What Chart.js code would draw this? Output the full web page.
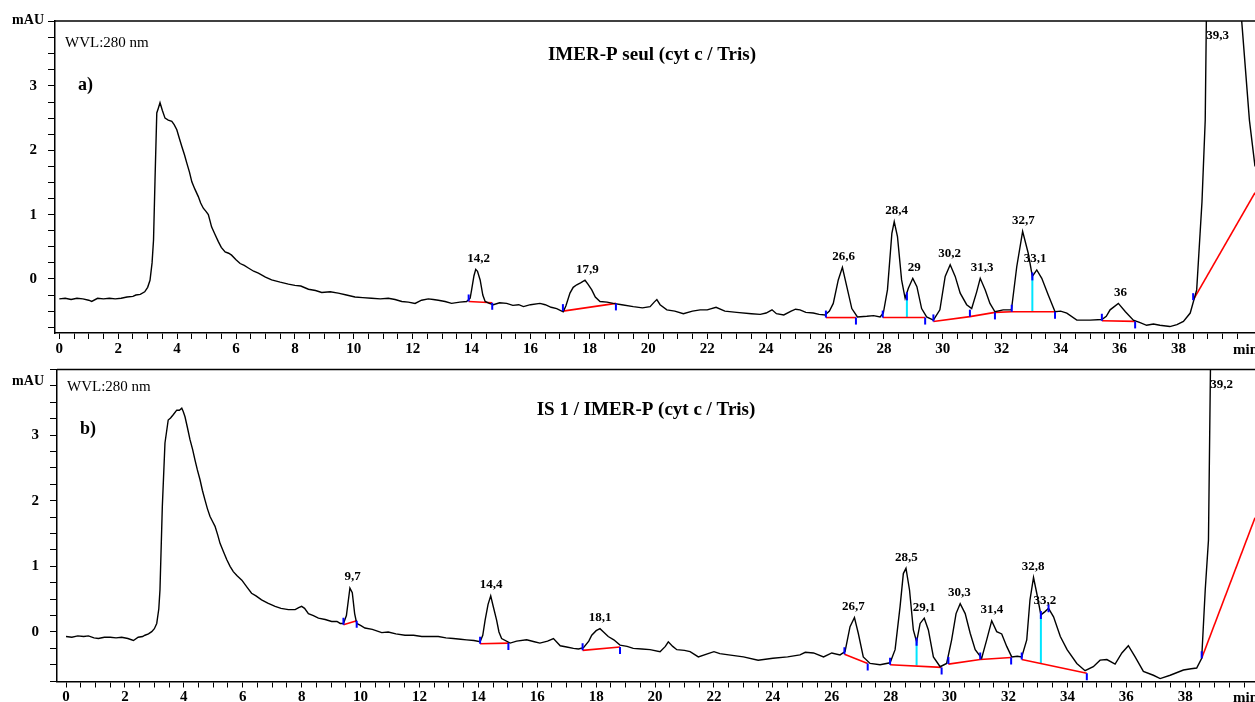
<!DOCTYPE html>
<html>
<head>
<meta charset="utf-8">
<script src="https://cdn.jsdelivr.net/npm/chart.js@4.4.1/dist/chart.umd.min.js"></script>
<style>
  html, body { margin: 0; padding: 0; background: #fff; }
  #wrap { position: relative; width: 1255px; height: 702px; overflow: hidden; }
  .panel { position: absolute; left: 0; }
  #panelA { top: 0; }
  #panelB { top: 362px; }
</style>
</head>
<body>
<div id="wrap">
  <div class="panel" id="panelA"><canvas id="chartA" width="1255" height="362"></canvas></div>
  <div class="panel" id="panelB"><canvas id="chartB" width="1255" height="340"></canvas></div>
</div>
<script>
// chromatogram a) IMER-P seul : [time (min), signal (mAU)]
const traceA = [
  [0.0,-0.31],[0.2,-0.30],[0.4,-0.32],[0.6,-0.30],[0.8,-0.31],[1.0,-0.33],[1.1,-0.35],[1.3,-0.30],
  [1.5,-0.31],[1.7,-0.30],[1.9,-0.31],[2.1,-0.30],[2.3,-0.28],[2.5,-0.27],[2.6,-0.25],[2.75,-0.24],
  [2.9,-0.20],[3.0,-0.13],[3.08,-0.02],[3.15,0.25],[3.2,0.61],[3.25,1.54],[3.31,2.58],[3.36,2.65],
  [3.42,2.74],[3.5,2.62],[3.59,2.50],[3.7,2.47],[3.82,2.45],[3.9,2.40],[3.99,2.32],[4.08,2.18],
  [4.16,2.06],[4.25,1.93],[4.33,1.80],[4.42,1.66],[4.5,1.51],[4.6,1.40],[4.72,1.28],[4.8,1.18],
  [4.89,1.10],[4.98,1.05],[5.06,1.00],[5.12,0.90],[5.17,0.81],[5.28,0.70],[5.4,0.58],[5.5,0.49],
  [5.63,0.42],[5.75,0.40],[5.85,0.37],[6.0,0.30],[6.14,0.24],[6.28,0.21],[6.42,0.17],[6.6,0.12],
  [6.76,0.09],[7.0,0.03],[7.21,-0.015],[7.5,-0.05],[7.78,-0.08],[8.0,-0.10],[8.2,-0.11],[8.46,-0.16],
  [8.7,-0.18],[8.91,-0.21],[9.2,-0.20],[9.47,-0.22],[9.75,-0.25],[10.04,-0.28],[10.3,-0.29],[10.6,-0.30],
  [10.9,-0.31],[11.17,-0.30],[11.4,-0.32],[11.63,-0.35],[11.85,-0.36],[12.08,-0.38],[12.3,-0.33],[12.53,-0.31],
  [12.7,-0.32],[12.87,-0.33],[13.1,-0.35],[13.32,-0.38],[13.6,-0.36],[13.83,-0.35],[13.95,-0.30],[14.0,-0.17],
  [14.08,0.05],[14.14,0.15],[14.2,0.12],[14.29,-0.015],[14.38,-0.25],[14.46,-0.35],[14.6,-0.38],[14.74,-0.40],
  [14.95,-0.37],[15.19,-0.38],[15.4,-0.41],[15.6,-0.40],[15.76,-0.43],[16.0,-0.40],[16.32,-0.38],[16.5,-0.40],
  [16.7,-0.44],[16.89,-0.46],[17.11,-0.51],[17.2,-0.42],[17.34,-0.22],[17.45,-0.13],[17.57,-0.09],[17.7,-0.06],
  [17.85,-0.02],[17.95,-0.08],[18.08,-0.17],[18.2,-0.28],[18.36,-0.35],[18.6,-0.36],[18.81,-0.38],[19.1,-0.40],
  [19.49,-0.43],[19.8,-0.45],[20.06,-0.43],[20.2,-0.36],[20.29,-0.32],[20.4,-0.40],[20.63,-0.48],[20.9,-0.50],
  [21.19,-0.54],[21.5,-0.50],[21.76,-0.48],[22.0,-0.48],[22.3,-0.44],[22.6,-0.50],[23.0,-0.52],[23.5,-0.54],
  [23.8,-0.55],[24.0,-0.53],[24.2,-0.48],[24.35,-0.54],[24.6,-0.56],[24.85,-0.50],[25.0,-0.47],[25.15,-0.48],
  [25.35,-0.52],[25.6,-0.53],[25.8,-0.55],[26.0,-0.56],[26.15,-0.50],[26.28,-0.38],[26.45,-0.015],[26.59,0.18],
  [26.74,-0.12],[26.91,-0.46],[27.1,-0.59],[27.42,-0.58],[27.65,-0.57],[27.87,-0.59],[27.98,-0.53],[28.12,-0.17],
  [28.27,0.71],[28.35,0.89],[28.46,0.66],[28.6,-0.015],[28.72,-0.30],[28.83,-0.145],[28.98,0.01],[29.12,-0.12],
  [29.28,-0.46],[29.45,-0.59],[29.68,-0.64],[29.9,-0.48],[30.08,0.04],[30.25,0.22],[30.42,0.04],[30.59,-0.22],
  [30.81,-0.40],[30.98,-0.46],[31.15,-0.20],[31.27,0.01],[31.44,-0.17],[31.6,-0.38],[31.77,-0.51],[32.05,-0.48],
  [32.33,-0.48],[32.51,0.19],[32.71,0.74],[32.9,0.40],[33.04,0.04],[33.19,0.14],[33.36,0.01],[33.58,-0.25],
  [33.81,-0.51],[34.0,-0.50],[34.21,-0.53],[34.55,-0.64],[35.0,-0.64],[35.4,-0.63],[35.55,-0.58],[35.68,-0.48],
  [35.96,-0.38],[36.2,-0.51],[36.47,-0.64],[36.7,-0.68],[36.92,-0.72],[37.15,-0.70],[37.37,-0.72],[37.71,-0.74],
  [37.95,-0.71],[38.17,-0.66],[38.4,-0.53],[38.62,-0.17],[38.8,1.2],[38.91,2.47],[38.95,4.1],[39.2,6.0],
  [39.9,6.0],[40.15,4.0],[40.41,2.47],[40.6,1.75]
];

// chromatogram b) IS 1 / IMER-P
const traceB = [
  [0.0,-0.07],[0.2,-0.08],[0.4,-0.06],[0.6,-0.07],[0.76,-0.06],[0.95,-0.09],[1.1,-0.10],[1.3,-0.08],
  [1.5,-0.08],[1.7,-0.09],[1.89,-0.08],[2.1,-0.10],[2.29,-0.13],[2.45,-0.08],[2.6,-0.07],[2.68,-0.05],
  [2.8,-0.03],[2.91,0.005],[3.0,0.05],[3.08,0.13],[3.15,0.35],[3.19,0.64],[3.27,1.91],[3.36,2.88],
  [3.47,3.23],[3.55,3.26],[3.64,3.31],[3.76,3.38],[3.85,3.38],[3.93,3.41],[3.98,3.36],[4.04,3.28],
  [4.12,3.12],[4.21,2.93],[4.3,2.78],[4.38,2.62],[4.46,2.47],[4.55,2.32],[4.63,2.16],[4.72,2.01],
  [4.8,1.88],[4.89,1.76],[4.98,1.68],[5.06,1.61],[5.15,1.48],[5.23,1.35],[5.35,1.22],[5.46,1.10],
  [5.57,1.00],[5.68,0.92],[5.8,0.86],[5.97,0.79],[6.15,0.68],[6.3,0.59],[6.45,0.55],[6.64,0.49],
  [6.85,0.44],[7.1,0.39],[7.3,0.36],[7.55,0.34],[7.78,0.34],[7.9,0.37],[8.0,0.39],[8.1,0.36],
  [8.23,0.28],[8.4,0.25],[8.57,0.21],[8.8,0.19],[9.02,0.16],[9.2,0.16],[9.31,0.13],[9.42,0.13],
  [9.52,0.25],[9.64,0.67],[9.72,0.60],[9.8,0.28],[9.87,0.13],[10.0,0.10],[10.15,0.06],[10.4,0.04],
  [10.72,-0.01],[10.94,0.00],[11.2,-0.03],[11.51,-0.05],[11.8,-0.05],[12.08,-0.07],[12.4,-0.07],[12.64,-0.07],
  [12.9,-0.09],[13.15,-0.10],[13.4,-0.11],[13.6,-0.12],[13.85,-0.13],[14.06,-0.15],[14.15,-0.05],[14.23,0.18],
  [14.33,0.42],[14.42,0.55],[14.5,0.40],[14.62,0.18],[14.7,0.00],[14.79,-0.10],[15.08,-0.17],[15.3,-0.14],
  [15.64,-0.12],[15.9,-0.15],[16.09,-0.17],[16.35,-0.14],[16.55,-0.10],[16.78,-0.21],[17.0,-0.23],[17.23,-0.25],
  [17.4,-0.26],[17.57,-0.24],[17.75,-0.14],[17.85,-0.05],[18.0,0.02],[18.13,0.05],[18.25,0.00],[18.41,-0.07],
  [18.6,-0.12],[18.81,-0.20],[19.05,-0.22],[19.26,-0.25],[19.55,-0.26],[19.83,-0.27],[20.17,-0.30],[20.35,-0.22],
  [20.45,-0.15],[20.6,-0.22],[20.74,-0.27],[21.0,-0.28],[21.19,-0.30],[21.47,-0.38],[21.8,-0.33],[22.0,-0.30],
  [22.2,-0.33],[22.5,-0.35],[23.0,-0.38],[23.5,-0.43],[24.0,-0.40],[24.5,-0.38],[24.92,-0.35],[25.1,-0.31],
  [25.38,-0.32],[25.72,-0.38],[26.0,-0.32],[26.28,-0.35],[26.45,-0.30],[26.62,0.08],[26.77,0.22],[26.9,-0.02],
  [27.07,-0.38],[27.3,-0.48],[27.64,-0.50],[27.98,-0.47],[28.15,-0.27],[28.32,0.39],[28.43,0.89],[28.52,0.97],
  [28.64,0.64],[28.77,0.03],[28.88,-0.15],[29.0,0.13],[29.14,0.21],[29.28,0.03],[29.45,-0.38],[29.68,-0.53],
  [29.9,-0.48],[30.07,-0.12],[30.22,0.28],[30.36,0.43],[30.53,0.28],[30.7,-0.02],[30.87,-0.27],[31.09,-0.40],
  [31.26,-0.12],[31.43,0.17],[31.6,0.005],[31.77,-0.03],[31.94,-0.22],[32.11,-0.38],[32.3,-0.37],[32.45,-0.38],
  [32.62,-0.12],[32.73,0.49],[32.85,0.83],[32.96,0.59],[33.1,0.26],[33.24,0.31],[33.36,0.36],[33.53,0.23],
  [33.76,-0.07],[33.99,-0.27],[34.32,-0.48],[34.6,-0.59],[34.88,-0.53],[35.11,-0.43],[35.34,-0.42],[35.62,-0.49],
  [35.85,-0.32],[36.07,-0.21],[36.3,-0.38],[36.58,-0.60],[36.92,-0.66],[37.15,-0.71],[37.49,-0.66],[37.94,-0.58],
  [38.2,-0.56],[38.39,-0.55],[38.56,-0.40],[38.68,0.64],[38.79,1.40],[38.86,4.1],[39.2,7.0],[40.5,7.0]
];

// peak retention times as printed
const peaksA = ['14,2','17,9','26,6','28,4','29','30,2','31,3','32,7','33,1','36','39,3'];
const peaksB = ['9,7','14,4','18,1','26,7','28,5','29,1','30,3','31,4','32,8','33,2','39,2'];

// integration baselines (red)
const baselinesA = [
  [[13.9,-0.35],[14.7,-0.37]],
  [[17.1,-0.50],[18.9,-0.38]],
  [[26.03,-0.60],[27.05,-0.60]],
  [[27.96,-0.60],[29.4,-0.60]],
  [[29.68,-0.66],[30.92,-0.586],[31.77,-0.52],[32.34,-0.51],[33.81,-0.51]],
  [[35.4,-0.65],[36.53,-0.66]],
  [[38.5,-0.33],[40.6,1.34]]
];
const baselinesB = [
  [[9.42,0.11],[9.87,0.17]],
  [[14.06,-0.18],[15.02,-0.17]],
  [[17.54,-0.28],[18.81,-0.23]],
  [[26.43,-0.34],[27.22,-0.48]],
  [[27.98,-0.50],[29.73,-0.54]],
  [[29.96,-0.49],[31.04,-0.42],[32.09,-0.39]],
  [[32.45,-0.42],[34.66,-0.63]],
  [[38.56,-0.40],[40.37,1.74]]
];

// peak start / end markers (blue): [time, signal, 1 = up, -1 = down, 0 = centred]
const marksA = [
  [13.9,-0.35,1],[14.7,-0.37,-1],[17.1,-0.50,1],[18.9,-0.38,-1],
  [26.03,-0.60,1],[27.05,-0.60,-1],[27.96,-0.60,1],[28.78,-0.27,0],[29.4,-0.60,-1],
  [29.68,-0.66,1],[30.92,-0.586,1],[31.77,-0.52,-1],[32.34,-0.51,1],[33.04,0.04,0],[33.81,-0.51,-1],
  [35.4,-0.65,1],[36.53,-0.66,-1],[38.5,-0.33,1]
];
const marksB = [
  [9.42,0.11,1],[9.87,0.17,-1],[14.06,-0.18,1],[15.02,-0.17,-1],[17.54,-0.28,1],[18.81,-0.23,-1],
  [26.43,-0.34,1],[27.22,-0.48,-1],[27.98,-0.50,1],[28.88,-0.15,0],[29.73,-0.54,-1],
  [29.96,-0.49,1],[31.04,-0.42,1],[32.09,-0.39,-1],[32.45,-0.42,1],[33.1,0.26,0],[33.36,0.36,0],[34.66,-0.63,-1],
  [38.56,-0.40,1]
];

// perpendicular drops between unresolved peaks (cyan): [time, top, bottom]
const dropsA = [[28.78,-0.27,-0.60],[33.04,0.04,-0.51]];
const dropsB = [[28.88,-0.15,-0.51],[33.1,0.26,-0.48]];

const FONT = '"Liberation Serif", "Times New Roman", serif';

function makeTicks(from, to, step) {
  const out = [];
  for (let v = from; v <= to + 1e-9; v += step) out.push({ value: Math.round(v * 100) / 100 });
  return out;
}

const decor = {
  id: 'decor',
  afterDatasetsDraw(chart, args, o) {
    const ctx = chart.ctx, xs = chart.scales.x, ys = chart.scales.y, area = chart.chartArea;
    ctx.save();
    ctx.beginPath();
    ctx.rect(area.left, area.top, area.right - area.left, area.bottom - area.top);
    ctx.clip();
    ctx.strokeStyle = '#0000ff';
    ctx.lineWidth = 2;
    o.marks.forEach(m => {
      const px = xs.getPixelForValue(m[0]), py = ys.getPixelForValue(m[1]);
      let y0 = py - 4, y1 = py + 4;
      if (m[2] > 0) { y0 = py - 7; y1 = py; }
      if (m[2] < 0) { y0 = py; y1 = py + 7; }
      ctx.beginPath(); ctx.moveTo(px, y0); ctx.lineTo(px, y1); ctx.stroke();
    });
    ctx.restore();

    ctx.save();
    ctx.fillStyle = '#000';
    ctx.font = 'bold 13px ' + FONT;
    ctx.textAlign = 'center';
    ctx.textBaseline = 'middle';
    o.peaks.forEach(name => {
      const t = parseFloat(name.replace(',', '.'));
      let top = -Infinity;
      o.trace.forEach(p => { if (Math.abs(p[0] - t) <= 0.12 && p[1] > top) top = p[1]; });
      let py = ys.getPixelForValue(top) - 11;
      if (py < area.top + 15) py = area.top + 15;
      ctx.fillText(name, xs.getPixelForValue(t) + 1, py);
    });
    ctx.restore();
  },
  afterDraw(chart, args, o) {
    const ctx = chart.ctx, area = chart.chartArea;
    ctx.save();
    ctx.strokeStyle = '#000';
    ctx.lineWidth = 1.5;
    ctx.beginPath();
    ctx.moveTo(area.left, area.top);
    ctx.lineTo(area.right, area.top);
    ctx.stroke();

    ctx.fillStyle = '#000';
    ctx.textBaseline = 'middle';
    ctx.font = 'bold 14px ' + FONT;
    ctx.textAlign = 'right';
    ctx.fillText('mAU', 44, o.mauY);
    ctx.textAlign = 'left';
    ctx.font = '15px ' + FONT;
    ctx.fillText('WVL:280 nm', area.left + 10, area.top + o.wvlDy);
    ctx.font = 'bold 18px ' + FONT;
    ctx.fillText(o.letter, area.left + 23, area.top + o.letterDy);
    ctx.textAlign = 'center';
    ctx.font = 'bold 19px ' + FONT;
    ctx.fillText(o.title, o.titleX, area.top + o.titleDy);
    ctx.textAlign = 'left';
    ctx.font = 'bold 15px ' + FONT;
    ctx.fillText('min', 1233, area.bottom + 17);
    ctx.restore();
  }
};

function buildChart(id, cfg) {
  const datasets = [{
    data: cfg.trace.map(p => ({ x: p[0], y: p[1] })),
    borderColor: '#000', borderWidth: 1.4
  }];
  cfg.baselines.forEach(b => datasets.push({
    data: b.map(p => ({ x: p[0], y: p[1] })),
    borderColor: '#ff0000', borderWidth: 1.6
  }));
  cfg.drops.forEach(d => datasets.push({
    data: [{ x: d[0], y: d[1] }, { x: d[0], y: d[2] }],
    borderColor: '#00e5ff', borderWidth: 2
  }));
  datasets.forEach(d => { d.showLine = true; d.pointRadius = 0; d.tension = 0; d.fill = false; });

  return new Chart(document.getElementById(id), {
    type: 'scatter',
    data: { datasets: datasets },
    options: {
      responsive: false,
      animation: false,
      events: [],
      layout: { padding: { top: cfg.padTop, left: 0, right: 0, bottom: 0 } },
      plugins: {
        legend: { display: false },
        tooltip: { enabled: false },
        decor: cfg.decor
      },
      scales: {
        x: {
          type: 'linear', min: cfg.xMin, max: cfg.xMax,
          afterBuildTicks: axis => { axis.ticks = makeTicks(0, 40, 0.5); },
          afterFit: axis => { axis.height = cfg.xHeight; axis.paddingLeft = 0; axis.paddingRight = 0; },
          ticks: {
            autoSkip: false, maxRotation: 0, padding: 1, color: '#000',
            font: { family: FONT, size: 15, weight: 'bold' },
            callback: v => (v % 2 === 0 && v < 40) ? String(v) : ''
          },
          grid: { drawOnChartArea: false, drawTicks: true, tickLength: 6, color: '#000', lineWidth: 1 },
          border: { display: true, color: '#000', width: 1.5 }
        },
        y: {
          type: 'linear', min: cfg.yMin, max: cfg.yMax,
          afterBuildTicks: axis => { axis.ticks = makeTicks(-0.75, 4, 0.25); },
          afterFit: axis => { axis.width = cfg.yWidth; axis.paddingTop = 0; axis.paddingBottom = 0; },
          ticks: {
            autoSkip: false, padding: 11, color: '#000',
            font: { family: FONT, size: 15, weight: 'bold' },
            callback: v => (Number.isInteger(v) && v >= 0 && v <= 3) ? String(v) : ''
          },
          grid: { drawOnChartArea: false, drawTicks: true, tickLength: 7, color: '#000', lineWidth: 1 },
          border: { display: true, color: '#000', width: 1.5 }
        }
      }
    },
    plugins: [decor]
  });
}

buildChart('chartA', {
  trace: traceA, baselines: baselinesA, drops: dropsA,
  xMin: -0.146, xMax: 40.6, yMin: -0.84, yMax: 4.01,
  padTop: 21, xHeight: 29, yWidth: 55,
  decor: { trace: traceA, peaks: peaksA, marks: marksA,
    mauY: 20, wvlDy: 22, letter: 'a)', letterDy: 64,
    title: 'IMER-P seul (cyt c / Tris)', titleX: 652, titleDy: 34 }
});

buildChart('chartB', {
  trace: traceB, baselines: baselinesB, drops: dropsB,
  xMin: -0.306, xMax: 40.37, yMin: -0.755, yMax: 4.0,
  padTop: 7.5, xHeight: 20.5, yWidth: 57,
  decor: { trace: traceB, peaks: peaksB, marks: marksB,
    mauY: 19, wvlDy: 17.5, letter: 'b)', letterDy: 59.5,
    title: 'IS 1 / IMER-P (cyt c / Tris)', titleX: 646, titleDy: 40.5 }
});
</script>
</body>
</html>
